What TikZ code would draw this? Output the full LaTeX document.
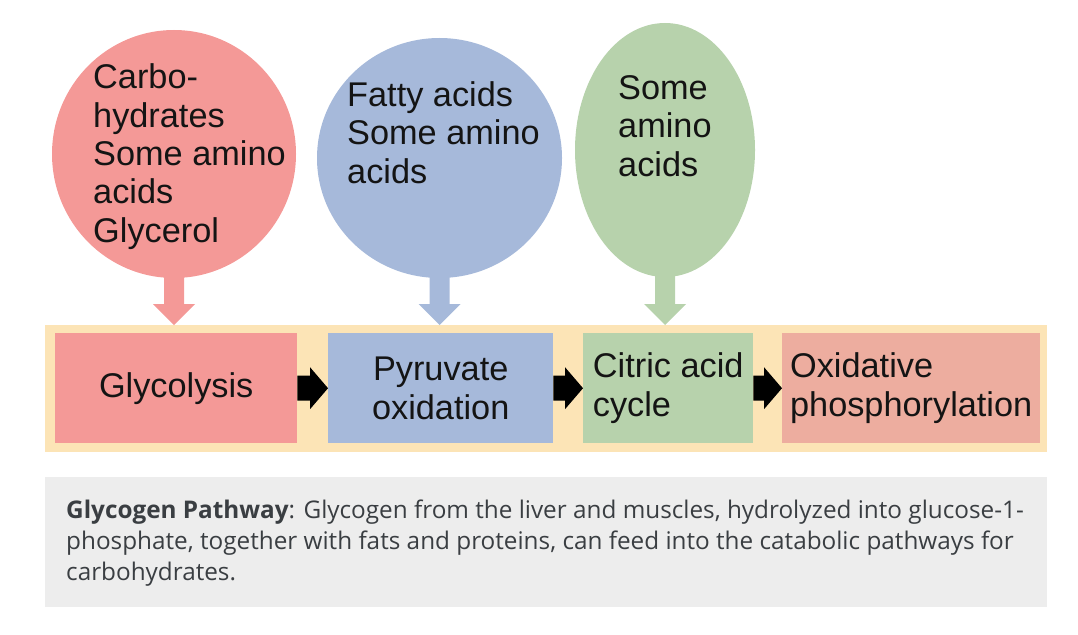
\documentclass[tikz,border=0pt]{standalone}
\usepackage{fontspec}
\setmainfont{Liberation Sans}
\newfontfamily\capfont{Open Sans}
\usetikzlibrary{shapes.geometric,calc}
\definecolor{redc}{RGB}{244,153,151}
\definecolor{bluec}{RGB}{166,185,218}
\definecolor{greenc}{RGB}{183,210,172}
\definecolor{bandc}{RGB}{252,228,182}
\definecolor{oxc}{RGB}{237,173,159}
\definecolor{capbg}{RGB}{237,237,237}
\definecolor{captext}{RGB}{58,62,66}
\definecolor{ink}{RGB}{20,20,20}
\newcommand\dnarrowblk[3]{\fill[#3] ($(#1)+(-10,-4)$) -- ($(#2)+(-10,-21)$) -- ($(#2)+(-21,-21)$) -- (#2) -- ($(#2)+(21,-21)$) -- ($(#2)+(10,-21)$) -- ($(#1)+(10,-4)$) -- cycle;}
\newcommand\rtarrowblk[2]{\fill[black] ($(#1)+(0,-12.5)$) -- ($(#2)+(-18,-12.5)$) -- ($(#2)+(-18,-21)$) -- (#2) -- ($(#2)+(-18,21)$) -- ($(#2)+(-18,12.5)$) -- ($(#1)+(0,12.5)$) -- cycle;}
\tikzset{
  bubble/.style={ellipse, inner sep=0pt, draw=none},
  bubbletext/.style={anchor=base west, inner sep=0pt, align=left, text=ink,
    font=\fontsize{34.3}{38.3}\selectfont},
  stage/.style={anchor=north west, inner sep=0pt, minimum height=110pt, text=ink,
    font=\fontsize{34.3}{39}\selectfont},
}
\begin{document}
\begin{tikzpicture}[x=1pt,y=-1pt]
\useasboundingbox (0,0) rectangle (1078,634);
% bubbles
\node[bubble, fill=redc, minimum width=244pt, minimum height=248pt] (e1) at (174,154) {};
\node[bubble, fill=bluec, minimum width=245pt, minimum height=240pt] (e2) at (439.5,158) {};
\node[bubble, fill=greenc, minimum width=180pt, minimum height=254pt] (e3) at (665,150) {};
\node[bubbletext] (t1) at (93,242) {Carbo-\\hydrates\\Some amino\\acids\\Glycerol};
\node[bubbletext] (t2) at (347,183) {Fatty acids\\Some amino\\acids};
\node[bubbletext] (t3) at (618,176) {Some\\amino\\acids};
% band
\node[fill=bandc, minimum width=1002pt, minimum height=127pt, inner sep=0pt, anchor=north west] (band) at (45,325) {};
\coordinate (k1) at (e1.south |- band.north);
\coordinate (k2) at (e2.south |- band.north);
\coordinate (k3) at (e3.south |- band.north);
\dnarrowblk{e1.south}{k1}{redc}
\dnarrowblk{e2.south}{k2}{bluec}
\dnarrowblk{e3.south}{k3}{greenc}
% stages
\node[stage, fill=redc, minimum width=242pt, align=center] (g) at (55,333) {Glycolysis};
\node[stage, fill=bluec, minimum width=225pt, align=center] (p) at (328,333) {Pyruvate\\oxidation};
\node[stage, fill=greenc, minimum width=170pt, align=left] (c) at (583,333) {Citric acid\\cycle};
\node[stage, fill=oxc, minimum width=258pt, align=left] (o) at (782,333) {Oxidative\\phosphorylation};
\rtarrowblk{g.east}{p.west}
\rtarrowblk{p.east}{c.west}
\rtarrowblk{c.east}{o.west}
% caption
\node[fill=capbg, minimum width=1002pt, minimum height=130pt, inner sep=0pt, anchor=north west] (cap) at (45,477) {};
\node[anchor=base west, inner sep=0pt, align=left, text=captext, font=\capfont\fontsize{24.3}{31}\selectfont] (captxt) at (66,580) {\textbf{Glycogen Pathway}: Glycogen from the liver and muscles, hydrolyzed into glucose-1-\\phosphate, together with fats and proteins, can feed into the catabolic pathways for\\carbohydrates.};
\end{tikzpicture}
\end{document}
